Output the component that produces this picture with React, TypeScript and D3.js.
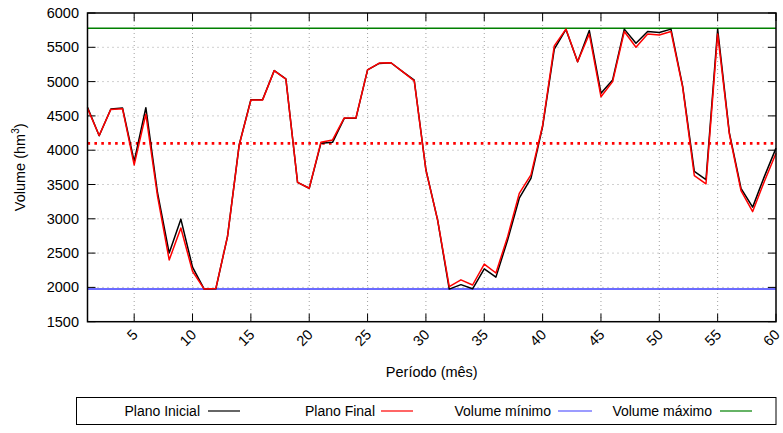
import React from "react";
import * as d3 from "d3";

const initialPlan = [4625, 4210, 4600, 4615, 3835, 4620, 3380, 2500, 2995, 2295, 1975, 1980, 2745, 4080, 4735, 4735, 5160, 5040, 3530, 3445, 4100, 4115, 4465, 4465, 5170, 5265, 5275, 5145, 5020, 3715, 2985, 1975, 2040, 1980, 2270, 2150, 2690, 3300, 3590, 4345, 5475, 5760, 5290, 5745, 4830, 5025, 5765, 5560, 5730, 5715, 5765, 4935, 3690, 3570, 5765, 4255, 3445, 3170, 3615, 4030];
const finalPlan = [4610, 4215, 4595, 4605, 3785, 4525, 3330, 2400, 2865, 2235, 1975, 1985, 2745, 4075, 4730, 4730, 5160, 5035, 3530, 3445, 4115, 4150, 4470, 4470, 5170, 5270, 5275, 5145, 5010, 3710, 2985, 2010, 2110, 2035, 2340, 2210, 2740, 3370, 3640, 4360, 5520, 5765, 5290, 5695, 4780, 5000, 5730, 5500, 5695, 5680, 5730, 4920, 3630, 3510, 5695, 4240, 3410, 3105, 3545, 3955];
const volumeMin = 1975;
const volumeMax = 5778;
const targetLevel = 4100;
const xTicks = [5, 10, 15, 20, 25, 30, 35, 40, 45, 50, 55, 60];
const yTicks = [1500, 2000, 2500, 3000, 3500, 4000, 4500, 5000, 5500, 6000];
const legendLabels = ["Plano Inicial", "Plano Final", "Volume mínimo", "Volume máximo"];
const legendColors = ["#000000", "#ff0000", "#3a3aff", "#008000"];

const W = 783, H = 433;
const L = 87.5, R = 776, T = 13, B = 321.7;
const font = "'Liberation Sans', Arial, Helvetica, sans-serif";

export default function App() {
  const x = d3.scaleLinear().domain([1, 60]).range([L, R]);
  const y = d3.scaleLinear().domain([1500, 6000]).range([B, T]);
  const line = d3.line<number>().x((_, i) => x(i + 1)).y((d) => y(d));

  const legendText = [200, 375, 551, 712];
  const legendLine = [[208, 240], [381, 413], [558, 592], [720, 752]];

  return (
    <svg width={W} height={H} style={{ position: "absolute", left: 0, top: 0, background: "#fff" }} fontFamily={font}>
      {/* grid */}
      {yTicks.filter((t) => t > 1500 && t < 6000).map((t) => (
        <line key={"gy" + t} x1={L} x2={R} y1={y(t)} y2={y(t)} stroke="#a0a0a0" strokeWidth={1} strokeDasharray="1 4" />
      ))}
      {xTicks.filter((t) => t < 60).map((t) => (
        <line key={"gx" + t} x1={x(t)} x2={x(t)} y1={T} y2={B} stroke="#a0a0a0" strokeWidth={1} strokeDasharray="1 3" />
      ))}
      {/* ticks */}
      {yTicks.map((t) => (
        <g key={"ty" + t}>
          <line x1={L} x2={L + 8} y1={y(t)} y2={y(t)} stroke="#000" strokeWidth={1} />
          <line x1={R - 8} x2={R} y1={y(t)} y2={y(t)} stroke="#000" strokeWidth={1} />
          <text x={79} y={y(t)} dy="0.35em" textAnchor="end" fontSize={14.5} fill="#000">{t}</text>
        </g>
      ))}
      {xTicks.map((t) => (
        <g key={"tx" + t}>
          <line x1={x(t)} x2={x(t)} y1={B} y2={B - 8} stroke="#000" strokeWidth={1} />
          <line x1={x(t)} x2={x(t)} y1={T} y2={T + 8} stroke="#000" strokeWidth={1} />
          <text transform={`translate(${x(t) + 1},332) rotate(-45)`} textAnchor="end" dy="0.35em" fontSize={14.5} fill="#000">{t}</text>
        </g>
      ))}
      {/* reference lines */}
      <line x1={L} x2={R} y1={y(volumeMax)} y2={y(volumeMax)} stroke="#008000" strokeWidth={1.3} />
      <line x1={L} x2={R} y1={y(volumeMin)} y2={y(volumeMin)} stroke="#3a3aff" strokeWidth={1.5} />
      <line x1={L} x2={R} y1={y(targetLevel)} y2={y(targetLevel)} stroke="#ff0000" strokeWidth={2.6} strokeDasharray="2.6 4.3" />
      {/* series */}
      <path d={line(initialPlan) || ""} fill="none" stroke="#000" strokeWidth={1.5} strokeLinejoin="round" />
      <path d={line(finalPlan) || ""} fill="none" stroke="#ff0000" strokeWidth={1.5} strokeLinejoin="round" />
      {/* frame */}
      <rect x={L} y={T} width={R - L} height={B - T} fill="none" stroke="#000" strokeWidth={1.5} />
      {/* axis labels */}
      <text x={(L + R) / 2} y={377} textAnchor="middle" fontSize={14.5} fill="#000">Período (mês)</text>
      <text transform={`translate(25,${(T + B) / 2}) rotate(-90)`} textAnchor="middle" fontSize={14.5} fill="#000">
        Volume (hm<tspan dy="-6" fontSize={10}>3</tspan><tspan dy="6">)</tspan>
      </text>
      {/* legend */}
      <rect x={76.5} y={397.5} width={699.5} height={27} fill="none" stroke="#000" strokeWidth={1} />
      {legendLabels.map((lab, i) => (
        <g key={lab}>
          <text x={legendText[i]} y={411} dy="0.35em" textAnchor="end" fontSize={14} fill="#000">{lab}</text>
          <line x1={legendLine[i][0]} x2={legendLine[i][1]} y1={411} y2={411} stroke={legendColors[i]} strokeWidth={1.2} />
        </g>
      ))}
    </svg>
  );
}
